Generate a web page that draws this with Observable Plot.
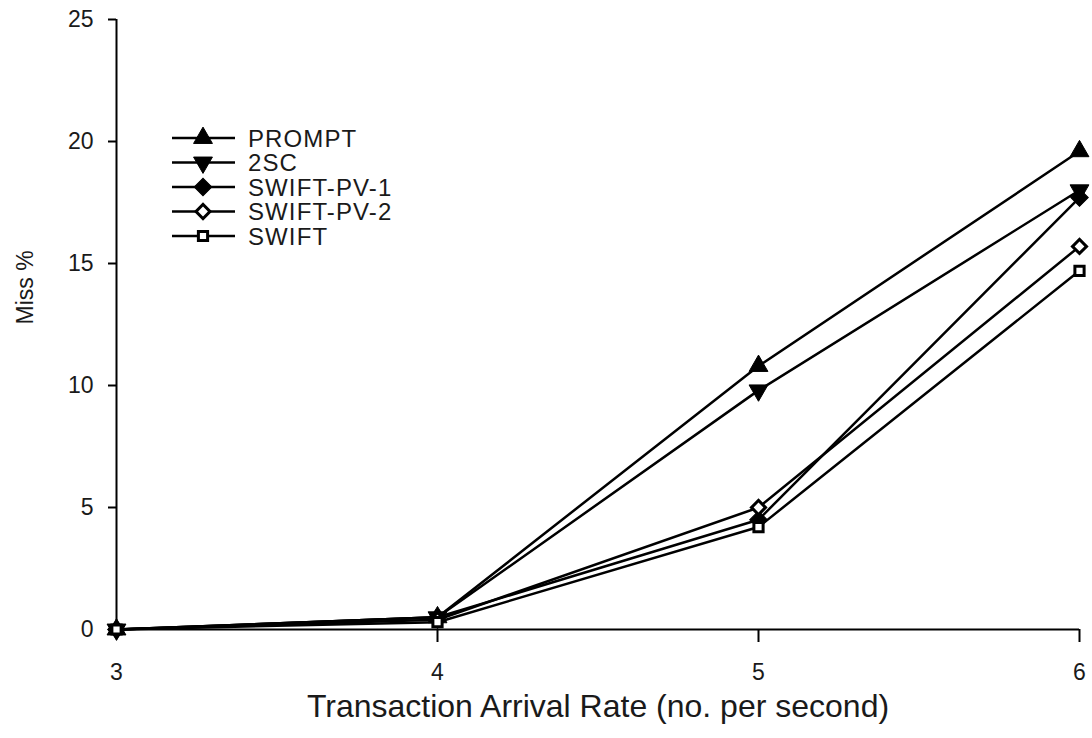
<!DOCTYPE html>
<html><head><meta charset="utf-8">
<script src="https://cdn.jsdelivr.net/npm/d3@7"></script>
<script src="https://cdn.jsdelivr.net/npm/@observablehq/plot@0.6"></script>
<style>
body{margin:0;background:#fff;font-family:"Liberation Sans",Arial,sans-serif}
#wrap{position:relative;width:1092px;height:738px}
#legend{position:absolute;left:0;top:0;pointer-events:none}
</style>
</head><body><div id="wrap"></div>
<script>
// Data
const rates = [3, 4, 5, 6];
const seriesNames = ["PROMPT", "2SC", "SWIFT-PV-1", "SWIFT-PV-2", "SWIFT"];
const promptMiss = [0, 0.5, 10.8, 19.6];
const twoSCMiss = [0, 0.5, 9.8, 18.0];
const pv1Miss = [0, 0.5, 4.5, 17.7];
const pv2Miss = [0, 0.4, 5.0, 15.7];
const swiftMiss = [0, 0.3, 4.2, 14.7];
const yTicks = [0, 5, 10, 15, 20, 25];
const xTicks = [3, 4, 5, 6];
const xLabel = "Transaction Arrival Rate (no. per second)";
const yLabel = "Miss %";

const allValues = [promptMiss, twoSCMiss, pv1Miss, pv2Miss, swiftMiss];
const data = seriesNames.flatMap((s, i) => rates.map((r, j) => ({series: s, rate: r, miss: allValues[i][j]})));

const styles = {
  "PROMPT":     {symbol: "triangle", rotate: 0,   r: 7,   fill: "black", stroke: "black", strokeWidth: 1},
  "2SC":        {symbol: "triangle", rotate: 180, r: 7,   fill: "black", stroke: "black", strokeWidth: 1},
  "SWIFT-PV-1": {symbol: "square",   rotate: 45,  r: 7,   fill: "black", stroke: "black", strokeWidth: 1},
  "SWIFT-PV-2": {symbol: "square",   rotate: 45,  r: 5.6, fill: "white", stroke: "black", strokeWidth: 3},
  "SWIFT":      {symbol: "square",   rotate: 0,   r: 5.2, fill: "white", stroke: "black", strokeWidth: 3}
};

const font = '"Liberation Sans", Arial, sans-serif';

const marks = [
  Plot.ruleX([3], {stroke: "black", strokeWidth: 2}),
  Plot.ruleY([0], {stroke: "black", strokeWidth: 2}),
  Plot.axisY(yTicks, {tickSize: 8, tickPadding: 15, fontSize: 23, label: null, strokeWidth: 2, fill: "#1a1a1a"}),
  Plot.axisX([4, 5, 6], {tickSize: 13, text: null, label: null, strokeWidth: 2}),
  Plot.axisX(xTicks, {tickSize: 0, tickPadding: 34, fontSize: 23, label: null, fill: "#1a1a1a", tickFormat: d => String(d)}),
  Plot.text([xLabel], {frameAnchor: "bottom", dy: 87, fontSize: 32, fill: "#1a1a1a"}),
  Plot.text([yLabel], {frameAnchor: "left", dx: -91, rotate: -90, fontSize: 23, fill: "#1a1a1a"}),
  Plot.line(data, {x: "rate", y: "miss", z: "series", stroke: "black", strokeWidth: 2.5})
];
for (const s of seriesNames) {
  const st = styles[s];
  marks.push(Plot.dot(data.filter(d => d.series === s), {
    x: "rate", y: "miss", symbol: st.symbol, rotate: st.rotate, r: st.r,
    fill: st.fill, stroke: st.stroke, strokeWidth: st.strokeWidth
  }));
}

const chart = Plot.plot({
  width: 1092, height: 738,
  marginLeft: 116, marginRight: 13, marginTop: 19, marginBottom: 109,
  style: {fontFamily: font, background: "white", overflow: "visible"},
  x: {domain: [3, 6], axis: null},
  y: {domain: [0, 25], axis: null},
  marks
});
const wrap = document.getElementById("wrap");
wrap.appendChild(chart);

// Legend
const leg = d3.select(wrap).append("svg").attr("id", "legend").attr("width", 1092).attr("height", 738);
const symMap = {triangle: d3.symbolTriangle, square: d3.symbolSquare};
seriesNames.forEach((s, i) => {
  const st = styles[s];
  const g = leg.append("g").attr("transform", `translate(0,${138 + i * 24.5})`);
  g.append("line").attr("x1", 172).attr("x2", 235).attr("y1", 0).attr("y2", 0).attr("stroke", "black").attr("stroke-width", 2.5);
  g.append("path").attr("d", d3.symbol(symMap[st.symbol], Math.PI * st.r * st.r)())
    .attr("transform", `translate(203,0) rotate(${st.rotate})`)
    .attr("fill", st.fill).attr("stroke", st.stroke).attr("stroke-width", st.strokeWidth);
  g.append("text").attr("x", 248).attr("y", 0).attr("dy", "0.36em").attr("font-size", 24)
    .attr("letter-spacing", "1.1px")
    .attr("font-family", font).attr("fill", "#1a1a1a").text(s);
});
</script>
</body></html>
